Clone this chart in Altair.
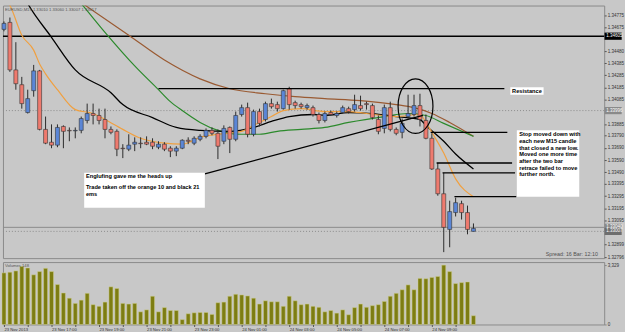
import altair as alt
import pandas as pd

# ---------------- data ----------------
bar_index = list(range(80))
open_ = [1.34661,1.34718,1.34329,1.34208,1.33980,1.34159,1.34321,1.33842,1.33737,1.33713,
         1.33866,1.33834,1.33830,1.33834,1.33915,1.33972,1.33956,1.33923,1.33842,1.33826,
         1.33688,1.33680,1.33721,1.33729,1.33737,1.33737,1.33696,1.33721,1.33688,1.33664,
         1.33688,1.33753,1.33729,1.33761,1.33785,1.33834,1.33810,1.33745,1.33858,1.33761,
         1.33964,1.34020,1.33802,1.33988,1.33923,1.34053,1.34045,1.34012,1.34175,1.34061,
         1.34045,1.34020,1.34020,1.33964,1.33915,1.33980,1.33956,1.33980,1.34012,1.34004,
         1.34037,1.34053,1.34037,1.33923,1.33850,1.34020,1.33842,1.33818,1.33947,1.33964,
         1.34037,1.33915,1.33769,1.33518,1.33315,1.33023,1.33161,1.33234,1.33161,1.33007]
high = [1.34726,1.34758,1.34556,1.34272,1.34167,1.34370,1.34329,1.33947,1.33883,1.33883,
        1.33875,1.33858,1.33858,1.33947,1.34053,1.34053,1.34012,1.34012,1.33866,1.33842,
        1.33721,1.33802,1.33777,1.33777,1.33785,1.33769,1.33745,1.33737,1.33704,1.33704,
        1.33761,1.33777,1.33785,1.33802,1.33850,1.33858,1.33842,1.33875,1.33866,1.33988,
        1.34045,1.34061,1.34004,1.34012,1.34069,1.34094,1.34069,1.34167,1.34191,1.34077,
        1.34061,1.34053,1.34037,1.33980,1.33988,1.33996,1.33988,1.34037,1.34028,1.34126,
        1.34118,1.34069,1.34053,1.33956,1.34045,1.34069,1.33858,1.33931,1.34126,1.34126,
        1.34134,1.33964,1.33810,1.33567,1.33486,1.33258,1.33283,1.33258,1.33218,1.33072]
low = [1.34645,1.34313,1.34167,1.34012,1.33972,1.34110,1.33834,1.33721,1.33688,1.33696,
       1.33688,1.33745,1.33769,1.33810,1.33891,1.33883,1.33883,1.33769,1.33802,1.33623,
       1.33607,1.33664,1.33664,1.33688,1.33713,1.33680,1.33680,1.33664,1.33615,1.33623,
       1.33680,1.33721,1.33713,1.33745,1.33769,1.33794,1.33599,1.33721,1.33648,1.33745,
       1.33947,1.33777,1.33785,1.33866,1.33907,1.34012,1.33988,1.34004,1.34004,1.34012,
       1.34012,1.34004,1.33947,1.33891,1.33899,1.33956,1.33939,1.33972,1.33972,1.33988,
       1.33996,1.34004,1.33923,1.33802,1.33810,1.33826,1.33794,1.33769,1.33931,1.33947,
       1.33866,1.33761,1.33510,1.33299,1.32837,1.32877,1.33129,1.33104,1.32983,1.33007]
close = [1.34710,1.34329,1.34216,1.34053,1.34094,1.34321,1.33842,1.33729,1.33713,1.33858,
         1.33826,1.33830,1.33834,1.33931,1.33972,1.33956,1.33915,1.33842,1.33818,1.33680,
         1.33684,1.33713,1.33737,1.33725,1.33721,1.33704,1.33721,1.33680,1.33664,1.33688,
         1.33753,1.33745,1.33769,1.33785,1.33834,1.33810,1.33704,1.33850,1.33761,1.33956,
         1.34020,1.33802,1.33988,1.33891,1.34053,1.34028,1.34012,1.34159,1.34045,1.34037,
         1.34028,1.34037,1.33964,1.33915,1.33972,1.33964,1.33972,1.34020,1.33988,1.34045,
         1.34012,1.34045,1.33939,1.33826,1.34020,1.33842,1.33810,1.33891,1.33972,1.34037,
         1.33923,1.33769,1.33518,1.33315,1.33040,1.33169,1.33242,1.33161,1.33023,1.33031]
volume = [2894,2930,3003,3257,3167,2785,2967,3149,2967,2239,
          1765,1474,1183,1365,1747,1110,1019,1256,2111,2020,
          1183,1147,1183,710,819,1583,710,946,782,782,
          273,601,655,673,673,564,1219,1256,1583,1693,
          1656,1601,1474,1147,1328,1274,1274,1019,1583,1328,
          1110,1147,1019,965,710,782,637,819,546,946,
          1147,965,1056,1110,1292,1583,1747,1947,2220,1947,
          2584,2566,2639,2693,3329,2967,2293,2348,2384,491]

ema10_idx = [0,1,3,5,6,7,9,12,15,17,20,23,27,30,33,36,40,42,45,47,50,54,58,61,66,70,71,72,74,76,79]
ema10_val = [1.34921,1.34856,1.34613,1.34491,1.34378,1.34297,1.34167,1.34004,1.33972,1.33923,
             1.33842,1.33769,1.33729,1.33721,1.33777,1.33802,1.33826,1.33875,1.33947,1.33996,
             1.34012,1.33988,1.33988,1.33972,1.33947,1.33964,1.33899,1.33818,1.33648,1.33437,1.33291]
ema21_idx = [3,4,8,12,18,20,25,29,33,38,42,45,48,52,54,58,62,66,70,71,74,76,79]
ema21_val = [1.34961,1.34872,1.34596,1.34329,1.34142,1.34045,1.33939,1.33858,1.33834,1.33826,
             1.33858,1.33907,1.33947,1.33964,1.33956,1.33980,1.33972,1.33947,1.33923,1.33875,
             1.33745,1.33640,1.33518]
ema50_idx = [12,13,17,22,26,28,30,33,36,40,43,46,50,54,58,64,68,71,74,79]
ema50_val = [1.34929,1.34872,1.34637,1.34362,1.34167,1.34069,1.33996,1.33899,1.33834,1.33802,
             1.33802,1.33826,1.33842,1.33858,1.33899,1.33947,1.33972,1.33956,1.33891,1.33785]
ema100_idx = [12,13,21,27,33,38,44,49,54,60,66,69,72,75,79]
ema100_val = [1.34913,1.34880,1.34613,1.34410,1.34256,1.34175,1.34134,1.34110,1.34094,1.34077,
              1.34045,1.34020,1.33972,1.33899,1.33785]

price_ticks = [1.34775,1.34675,1.34480,1.34385,1.34285,1.34185,1.34085,1.33885,1.33790,
               1.33690,1.33590,1.33490,1.33395,1.33295,1.33195,1.33095,1.32899,1.32796]
time_ticks = [0,4,8,12,16,20,24,28,32,36,40,44,48,52,56,60,64,68,72,76]
time_labels = ["23 Nov 2013","23 Nov 16:00","23 Nov 17:00","23 Nov 18:00","23 Nov 19:00",
               "23 Nov 20:00","23 Nov 21:00","23 Nov 22:00","23 Nov 23:00","24 Nov 00:00",
               "24 Nov 01:00","24 Nov 02:00","24 Nov 03:00","24 Nov 04:00","24 Nov 05:00",
               "24 Nov 06:00","24 Nov 07:00","24 Nov 08:00","24 Nov 09:00","24 Nov 10:00"]

# horizontal levels
level_black = 1.34605
level_dotted = 1.33996
level_bid = 1.33040
level_ask = 1.33007

# drawn lines: resistance, stop levels, trend line
seg_x1 = [26, 71.8, 72.8, 73.8, 75.8, 33.8]
seg_x2 = [84.2, 84.7, 85.5, 86.0, 86.2, 70.5]
seg_y1 = [1.34175, 1.33818, 1.33567, 1.33486, 1.33291, 1.33478]
seg_y2 = [1.34175, 1.33818, 1.33567, 1.33486, 1.33291, 1.33956]

# note boxes
box_x1 = [86.3, 13.5, 85.2]
box_x2 = [96.8, 33.8, 90.8]
box_y1 = [1.33834, 1.33486, 1.34187]
box_y2 = [1.33291, 1.33201, 1.34126]

note_text = ["Stop moved down with", "each new M15 candle", "that closed a new low.",
             "Moved one more time", "after the two bar", "retrace failed to move",
             "further north.",
             "Englufing gave me the heads up", "Trade taken off the orange 10 and black 21", "ems",
             "Resistance"]
note_x = [86.7]*7 + [13.8]*3 + [85.5]
note_y = [1.33802, 1.33745, 1.33688, 1.33640, 1.33583, 1.33526, 1.33478,
          1.33461, 1.33372, 1.33315, 1.34155]

tag_price = [level_black, level_dotted, level_bid, level_ask]
tag_text = ["1.34605", "1.33996", "1.33040", "1.33007"]
tag_fill = ["#000000", "#8a8a8a", "#8a8a8a", "#6e6e6e"]

# ---------------- build ----------------
candles = pd.DataFrame({"i": bar_index, "open": open_, "high": high, "low": low,
                        "close": close, "volume": volume})
candles["dir"] = ["up" if c >= o else "down" for o, c in zip(open_, close)]

def ema_df(idx, val, name):
    return pd.DataFrame({"i": idx, "p": val, "name": name})

segs = pd.DataFrame({"x1": seg_x1, "x2": seg_x2, "y1": seg_y1, "y2": seg_y2})
boxes = pd.DataFrame({"x1": box_x1, "x2": box_x2, "y1": box_y1, "y2": box_y2})
notes = pd.DataFrame({"x": note_x, "y": note_y, "t": note_text})
tags = pd.DataFrame({"p": tag_price, "t": tag_text, "f": tag_fill})

FONT = "Liberation Sans"
BG = "#c8c8c8"

xs = alt.Scale(domain=[-1/6, 101], nice=False, zero=False, padding=0)
ys = alt.Scale(domain=[1.32788, 1.34856], nice=False, zero=False, padding=0)

price_axis = alt.Axis(orient="right", values=price_ticks, format=".5f", labelFontSize=4.6,
                      labelFont=FONT, labelColor="#333333", tickSize=2, tickColor="#555555",
                      labelPadding=1, domain=False, grid=False, title=None)

def X(f="i"):
    return alt.X(f"{f}:Q", scale=xs, axis=None)

def Y(f):
    return alt.Y(f"{f}:Q", scale=ys, axis=price_axis)

base = alt.Chart(candles)

rule_levels = alt.layer(
    alt.Chart(pd.DataFrame({"p": [level_black]})).mark_rule(color="#000000", strokeWidth=1.6).encode(y=Y("p")),
    alt.Chart(pd.DataFrame({"p": [level_dotted, level_ask]})).mark_rule(color="#8c8c8c", strokeWidth=1, strokeDash=[1, 2]).encode(y=Y("p")),
    alt.Chart(pd.DataFrame({"p": [level_bid]})).mark_rule(color="#8c8c8c", strokeWidth=1).encode(y=Y("p")),
)

def ema_line(df, color, w=1.2):
    return alt.Chart(df).mark_line(color=color, strokeWidth=w, clip=True, interpolate="monotone").encode(
        x=X(), y=Y("p"))

lines = alt.layer(
    ema_line(ema_df(ema100_idx, ema100_val, "100"), "#9a5a32"),
    ema_line(ema_df(ema50_idx, ema50_val, "50"), "#2c8a2c"),
    ema_line(ema_df(ema21_idx, ema21_val, "21"), "#000000", 1.3),
    ema_line(ema_df(ema10_idx, ema10_val, "10"), "#f0a040"),
)

wicks = base.mark_rule(color="#2a2a2a", strokeWidth=1).encode(
    x=X(), y=Y("low"), y2="high")
bodies = base.mark_bar(size=4, stroke="#353535", strokeWidth=0.6).encode(
    x=X(), y=Y("open"), y2="close",
    color=alt.Color("dir:N", scale=alt.Scale(domain=["up", "down"], range=["#5b86d6", "#ee7a6e"]), legend=None))

seg_layer = alt.Chart(segs).mark_rule(color="#000000", strokeWidth=1.3).encode(
    x=X("x1"), x2="x2", y=Y("y1"), y2="y2")

ellipse = alt.Chart(pd.DataFrame({"i": [69.25], "p": [1.34032]})).mark_point(
    shape="M -0.64 0 A 0.64 1 0 1 0 0.64 0 A 0.64 1 0 1 0 -0.64 0",
    size=3025, filled=False, color="#000000", strokeWidth=1.2, opacity=1).encode(x=X(), y=Y("p"))

box_layer = alt.Chart(boxes).mark_rect(color="#ffffff").encode(
    x=X("x1"), x2="x2", y=Y("y1"), y2="y2")

note_layer = alt.Chart(notes).mark_text(align="left", baseline="middle", font=FONT,
                                         fontSize=5.7, fontWeight="bold", color="#000000").encode(
    x=X("x"), y=Y("y"), text="t:N")

tag_box = alt.Chart(tags).mark_point(shape="M -1 -0.42 H 1 V 0.42 H -1 Z", size=300, filled=True,
                                      opacity=1, strokeWidth=0).encode(
    x=alt.value(616), y=Y("p"), color=alt.Color("f:N", scale=None))
tag_txt = alt.Chart(tags).mark_text(align="left", baseline="middle", font=FONT, fontSize=4.6,
                                     color="#ffffff").encode(x=alt.value(609), y=Y("p"), text="t:N")

info = alt.layer(
    alt.Chart(pd.DataFrame({"t": ["EURUSD,M15  1.33010 1.33060 1.33007 1.33017"]})).mark_text(
        align="left", baseline="top", font=FONT, fontSize=4.2, color="#555555").encode(
        x=alt.value(2), y=alt.value(2), text="t:N"),
    alt.Chart(pd.DataFrame({"t": ["Spread: 16    Bar: 12:10"]})).mark_text(
        align="left", baseline="middle", font=FONT, fontSize=5.4, color="#505050").encode(
        x=alt.value(548), y=alt.value(251), text="t:N"),
)

main = alt.layer(rule_levels, lines, wicks, bodies, seg_layer, ellipse, box_layer, note_layer,
                 tag_box, tag_txt, info).properties(width=607, height=255)

label_expr = "[" + ",".join(f"'{s}'" for s in time_labels) + "][round(datum.value/4)]"
vol_x_axis = alt.Axis(orient="bottom", values=time_ticks, labelExpr=label_expr, labelAlign="left",
                      labelFontSize=4.2, labelFont=FONT, labelColor="#333333", tickSize=2,
                      tickColor="#555555", labelPadding=1, domain=False, grid=False, title=None)
vol_y_axis = alt.Axis(orient="right", values=[0, 3329], labelFontSize=4.6, labelFont=FONT,
                      labelColor="#333333", tickSize=2, labelPadding=1, domain=False, grid=False,
                      title=None)

vol_bars = base.mark_bar(size=4, color="#7d7d12", stroke="#cfcf8a", strokeWidth=0.5).encode(
    x=alt.X("i:Q", scale=xs, axis=vol_x_axis),
    y=alt.Y("volume:Q", scale=alt.Scale(domain=[0, 3500], nice=False, padding=0), axis=vol_y_axis))
vol_label = alt.Chart(pd.DataFrame({"t": ["Volumes 148"]})).mark_text(
    align="left", baseline="top", font=FONT, fontSize=4.2, color="#555555").encode(
    x=alt.value(2), y=alt.value(2), text="t:N")
vol = alt.layer(vol_bars, vol_label).properties(width=607, height=63)

chart = alt.vconcat(main, vol, spacing=1).properties(
    background=BG,
    padding={"left": 1, "top": 3, "right": 0, "bottom": 0},
).configure_view(stroke="#8a8a8a", strokeWidth=1).configure_concat(spacing=1)

chart.save("out.html", embed_options={"renderer": "svg", "actions": False})
